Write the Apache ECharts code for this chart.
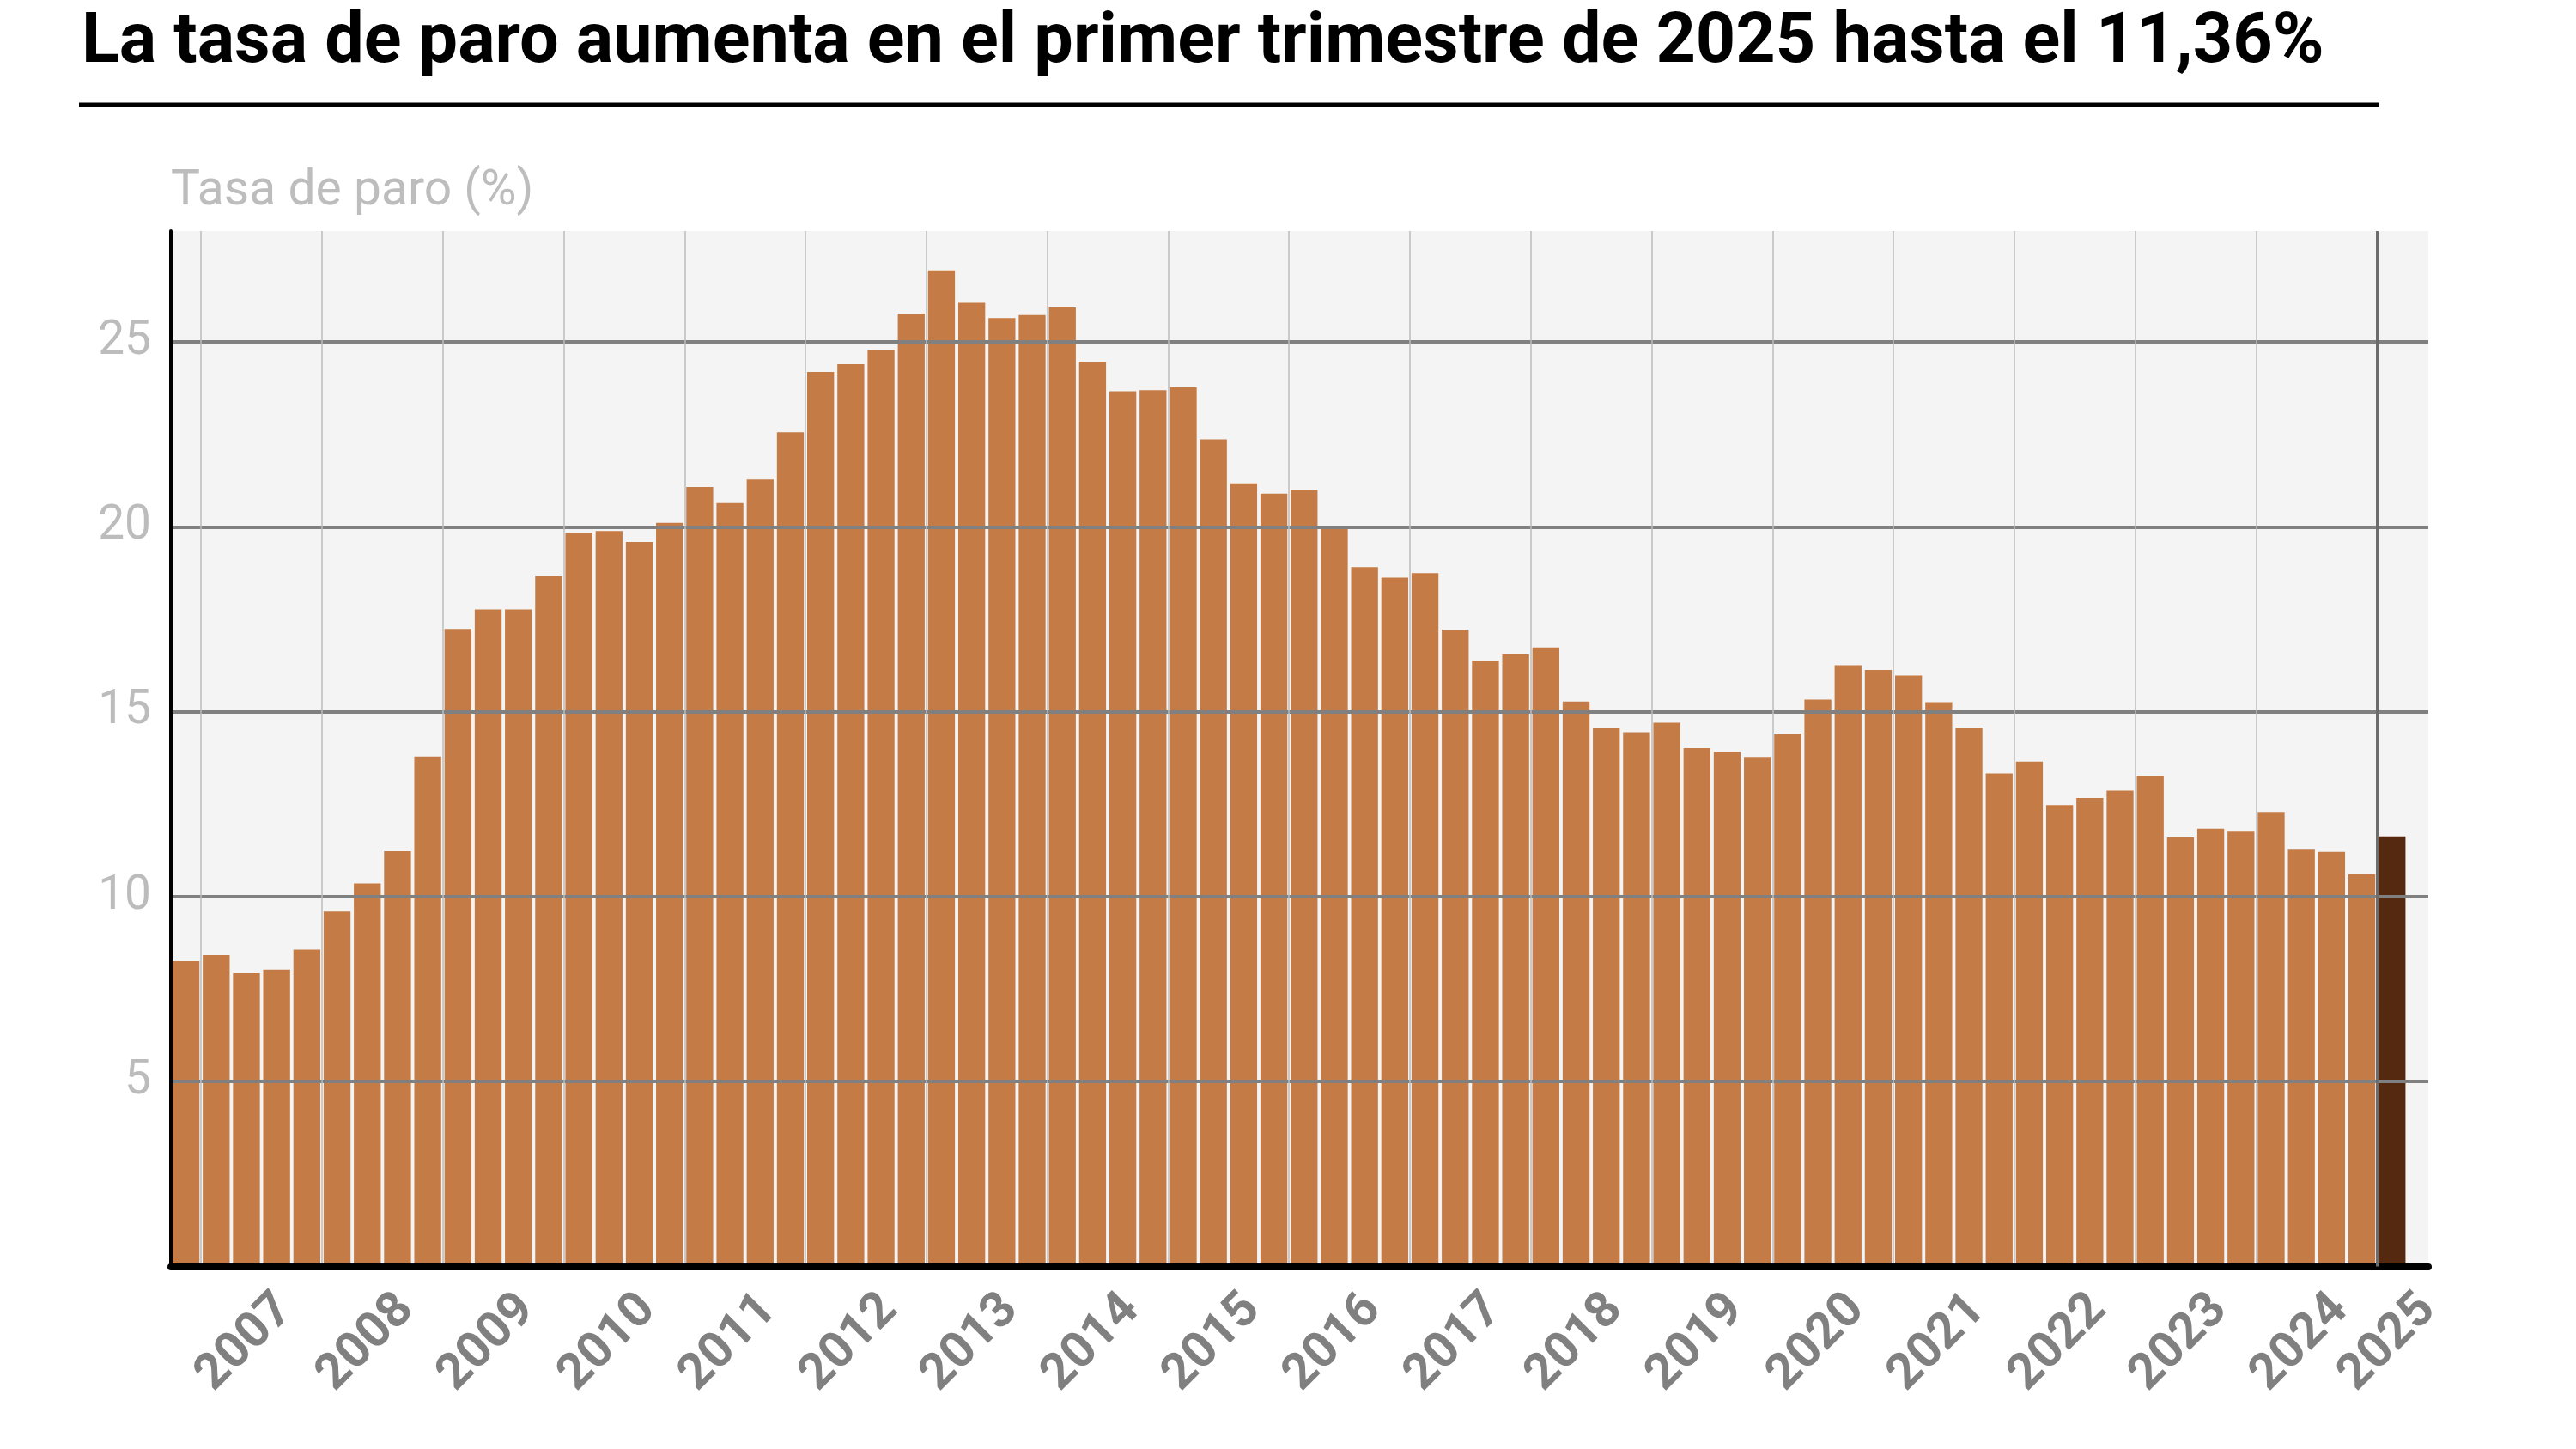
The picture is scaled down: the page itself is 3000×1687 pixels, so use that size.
<!DOCTYPE html>
<html>
<head>
<meta charset="utf-8">
<script src="https://cdn.jsdelivr.net/npm/echarts@6/dist/echarts.min.js"></script>
<style>
html,body{margin:0;padding:0;background:#fff;}
#chart{width:3000px;height:1687px;}
</style>
</head>
<body>
<div id="chart"></div>
<script>
// ---- data (Tasa de paro, %, trimestral; first bar = 2006 T4) ----
const startYear = 2006;
const startQuarter = 4;
const rate = [
  8.26,
  8.42, 7.93, 8.03, 8.57,
  9.60, 10.36, 11.23, 13.79,
  17.24, 17.77, 17.77, 18.66,
  19.84, 19.89, 19.59, 20.11,
  21.08, 20.64, 21.28, 22.56,
  24.19, 24.40, 24.79, 25.77,
  26.94, 26.06, 25.65, 25.73,
  25.93, 24.47, 23.67, 23.70,
  23.78, 22.37, 21.18, 20.90,
  21.00, 20.00, 18.91, 18.63,
  18.75, 17.22, 16.38, 16.55,
  16.74, 15.28, 14.55, 14.45,
  14.70, 14.02, 13.92, 13.78,
  14.41, 15.33, 16.26, 16.13,
  15.98, 15.26, 14.57, 13.33,
  13.65, 12.48, 12.67, 12.87,
  13.26, 11.60, 11.84, 11.76,
  12.29, 11.27, 11.21, 10.61,
  11.63
];
const yearLabels = ['2007','2008','2009','2010','2011','2012','2013','2014','2015','2016',
                    '2017','2018','2019','2020','2021','2022','2023','2024','2025'];
const yTicks = [5, 10, 15, 20, 25];
const titleText = 'La tasa de paro aumenta en el primer trimestre de 2025 hasta el 11,36%';
const yName = 'Tasa de paro (%)';

// ---- derived ----
const periods = rate.map((v, i) => {
  const q0 = startQuarter - 1 + i;
  return { year: startYear + Math.floor(q0 / 4), q: (q0 % 4) + 1 };
});
const X_MAX = 74.7;
const barData = rate.map((v, i) => [i + 0.5, v]);
const yearStart = {};
periods.forEach((p, i) => { if (p.q === 1 && yearStart[p.year] === undefined) yearStart[p.year] = i; });
const boundaryVals = yearLabels.map(y => yearStart[+y]);
const labelPos = {};
const labelVals = yearLabels.map(y => {
  const v = Math.min(yearStart[+y] + 2.8, X_MAX);
  labelPos[v.toFixed(3)] = y;
  return v;
});
const lastIdx = rate.length - 1;
const lastBoundary = yearStart[periods[lastIdx].year];

const chart = echarts.init(document.getElementById('chart'), null, {renderer: 'canvas'});
chart.setOption({
  animation: false,
  backgroundColor: '#ffffff',
  textStyle: {fontFamily: 'Roboto'},
  title: [
    {text: titleText, left: 90, top: 6,
     textStyle: {fontFamily: 'Roboto', fontWeight: 'bold', fontSize: 81, color: '#000'}},
    {text: yName, left: 194, top: 190,
     textStyle: {fontFamily: 'Roboto', fontWeight: 'normal', fontSize: 57, color: '#bdbdbd'}}
  ],
  graphic: [
    {type: 'line', shape: {x1: 92, y1: 122, x2: 2771, y2: 122},
     style: {stroke: '#000', lineWidth: 5}}
  ],
  grid: {left: 199, right: 172, top: 269, bottom: 212.5,
         show: true, backgroundColor: '#f4f4f4', borderWidth: 0},
  xAxis: {
    type: 'value', min: 0, max: X_MAX, z: 10,
    axisLine: {show: true, onZero: false, lineStyle: {color: '#000', width: 8}},
    axisTick: {show: false, customValues: boundaryVals},
    splitLine: {show: true, lineStyle: {color: '#bdbdbd', width: 1.5}},
    axisLabel: {
      customValues: labelVals,
      rotate: 45, margin: 42,
      fontFamily: 'Roboto', fontWeight: 'bold', fontSize: 58, color: '#808080',
      formatter: v => labelPos[(+v).toFixed(3)] || ''
    }
  },
  yAxis: {
    type: 'value', min: 0, max: 28, z: 10,
    axisLine: {show: true, lineStyle: {color: '#000', width: 4}},
    axisTick: {show: false, customValues: yTicks},
    splitLine: {show: true, lineStyle: {color: '#808080', width: 4}},
    axisLabel: {customValues: yTicks, margin: 23,
      fontFamily: 'Roboto', fontSize: 55, color: '#bcbcbc'}
  },
  series: [{
    type: 'bar',
    data: barData,
    barCategoryGap: '11%',
    itemStyle: {
      color: p => p.dataIndex === lastIdx ? '#54290f' : '#c47b45'
    },
    markLine: {
      silent: true, symbol: ['none', 'none'], z: 20,
      label: {show: false},
      lineStyle: {color: '#6c6c6c', width: 3, type: 'solid'},
      data: [{xAxis: lastBoundary}]
    }
  }]
});
</script>
</body>
</html>
